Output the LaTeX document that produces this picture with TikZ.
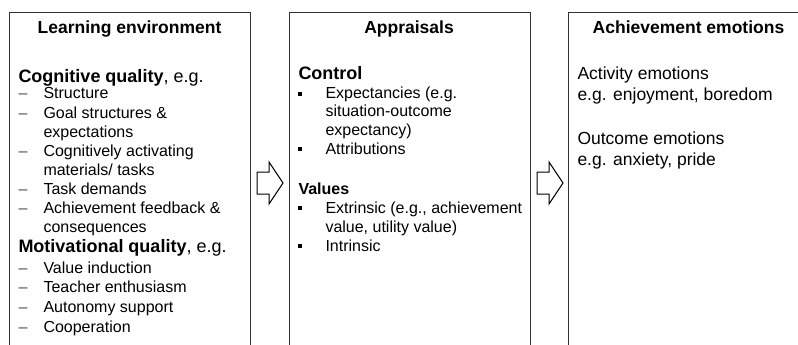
\documentclass[tikz,border=0pt]{standalone}
\usepackage{fontspec}
\setmainfont{Liberation Sans}
\usetikzlibrary{positioning}

\tikzset{every picture/.style={line width=1pt}}
\tikzset{
  panel/.style={draw=black!80, anchor=north west, inner sep=0pt,
                minimum width=241pt, minimum height=400pt},
  title/.style={font=\bfseries\fontsize{17.5}{21}\selectfont, anchor=base, inner sep=0pt},
  head/.style={font=\fontsize{18}{21}\selectfont, anchor=base west, inner sep=0pt},
  entry/.style={font=\fontsize{16}{19}\selectfont, anchor=base west, inner sep=0pt},
  big/.style={font=\fontsize{17.5}{21}\selectfont, anchor=base west, inner sep=0pt},
  dashmark/.style={font=\fontsize{16}{19}\selectfont, anchor=base west, inner sep=0pt, text=black!70},
  sqbullet/.style={rectangle, fill=black, minimum size=4pt, inner sep=0pt},
  blockarrow/.style={draw=black, line join=miter, fill=white},
}
% block arrow, #1 = left end of the shaft
\newcommand\fatarrow[1]{%
  \draw[blockarrow] (#1,172) -- ++(12,0) -- ++(0,-10) -- ++(14,21)
    -- ++(-14,21) -- ++(0,-10) -- ++(-12,0) -- cycle;}

\begin{document}
\begin{tikzpicture}[x=1pt,y=-1pt]
  \useasboundingbox (0,0) rectangle (798,345);
  \clip (0,0) rectangle (798,345);

  % the three panels
  \node[panel] (env)  at (9,12.5)   {};
  \node[panel] (appr) at (289,12.5) {};
  \node[panel] (emo)  at (568,12.5) {};

  \node[title] (envt)  at (129.5,34) {Learning environment};
  \node[title] (apprt) at (409,34)   {Appraisals};
  \node[title] (emot)  at (688.5,34) {Achievement emotions};

  % learning environment
  \node[head] (cog) at (18,82) {\textbf{Cognitive quality}, e.g.};
  \foreach \y/\b/\txt [count=\i] in {
      99/1/Structure,
      118.5/1/Goal structures \&,
      137.5/0/expectations,
      156.5/1/Cognitively activating,
      175/0/{materials/ tasks},
      194/1/Task demands,
      213/1/Achievement feedback \&,
      232/0/consequences} {
    \node[entry] (cog\i) at (43,\y) {\txt};
    \ifnum\b=1 \node[dashmark] (cogd\i) at (18,\y) {--}; \fi
  };
  \node[head] (mot) at (18,252) {\textbf{Motivational quality}, e.g.};
  \foreach \y/\txt [count=\i] in {
      273/Value induction,
      292.5/Teacher enthusiasm,
      312/Autonomy support,
      332/Cooperation} {
    \node[entry] (mot\i) at (43,\y) {\txt};
    \node[dashmark] (motd\i) at (18,\y) {--};
  };

  % appraisals
  \node[head, font=\bfseries\fontsize{18}{21}\selectfont] (ctrl) at (298,79) {Control};
  \foreach \y/\b/\txt [count=\i] in {
      99/1/Expectancies (e.g.,
      117/0/situation-outcome,
      135/0/expectancy),
      154/1/Attributions} {
    \node[entry] (ctrl\i) at (325,\y) {\txt};
    \ifnum\b=1 \node[sqbullet] (ctrlb\i) at (300,\y-5.5) {}; \fi
  };
  \node[entry, font=\bfseries\fontsize{16}{19}\selectfont] (val) at (298,194) {Values};
  \foreach \y/\b/\txt [count=\i] in {
      213/1/{Extrinsic (e.g., achievement},
      232/0/{value, utility value)},
      251/1/Intrinsic} {
    \node[entry] (val\i) at (325,\y) {\txt};
    \ifnum\b=1 \node[sqbullet] (valb\i) at (300,\y-5.5) {}; \fi
  };

  % achievement emotions
  \node[big] (act)  at (577,79)  {Activity emotions};
  \node[big] (actx) at (577,100) {e.g. enjoyment, boredom};
  \node[big] (out)  at (577,144) {Outcome emotions};
  \node[big] (outx) at (577,165) {e.g. anxiety, pride};

  % arrows between the panels
  \fatarrow{257}
  \fatarrow{537}
\end{tikzpicture}
\end{document}
